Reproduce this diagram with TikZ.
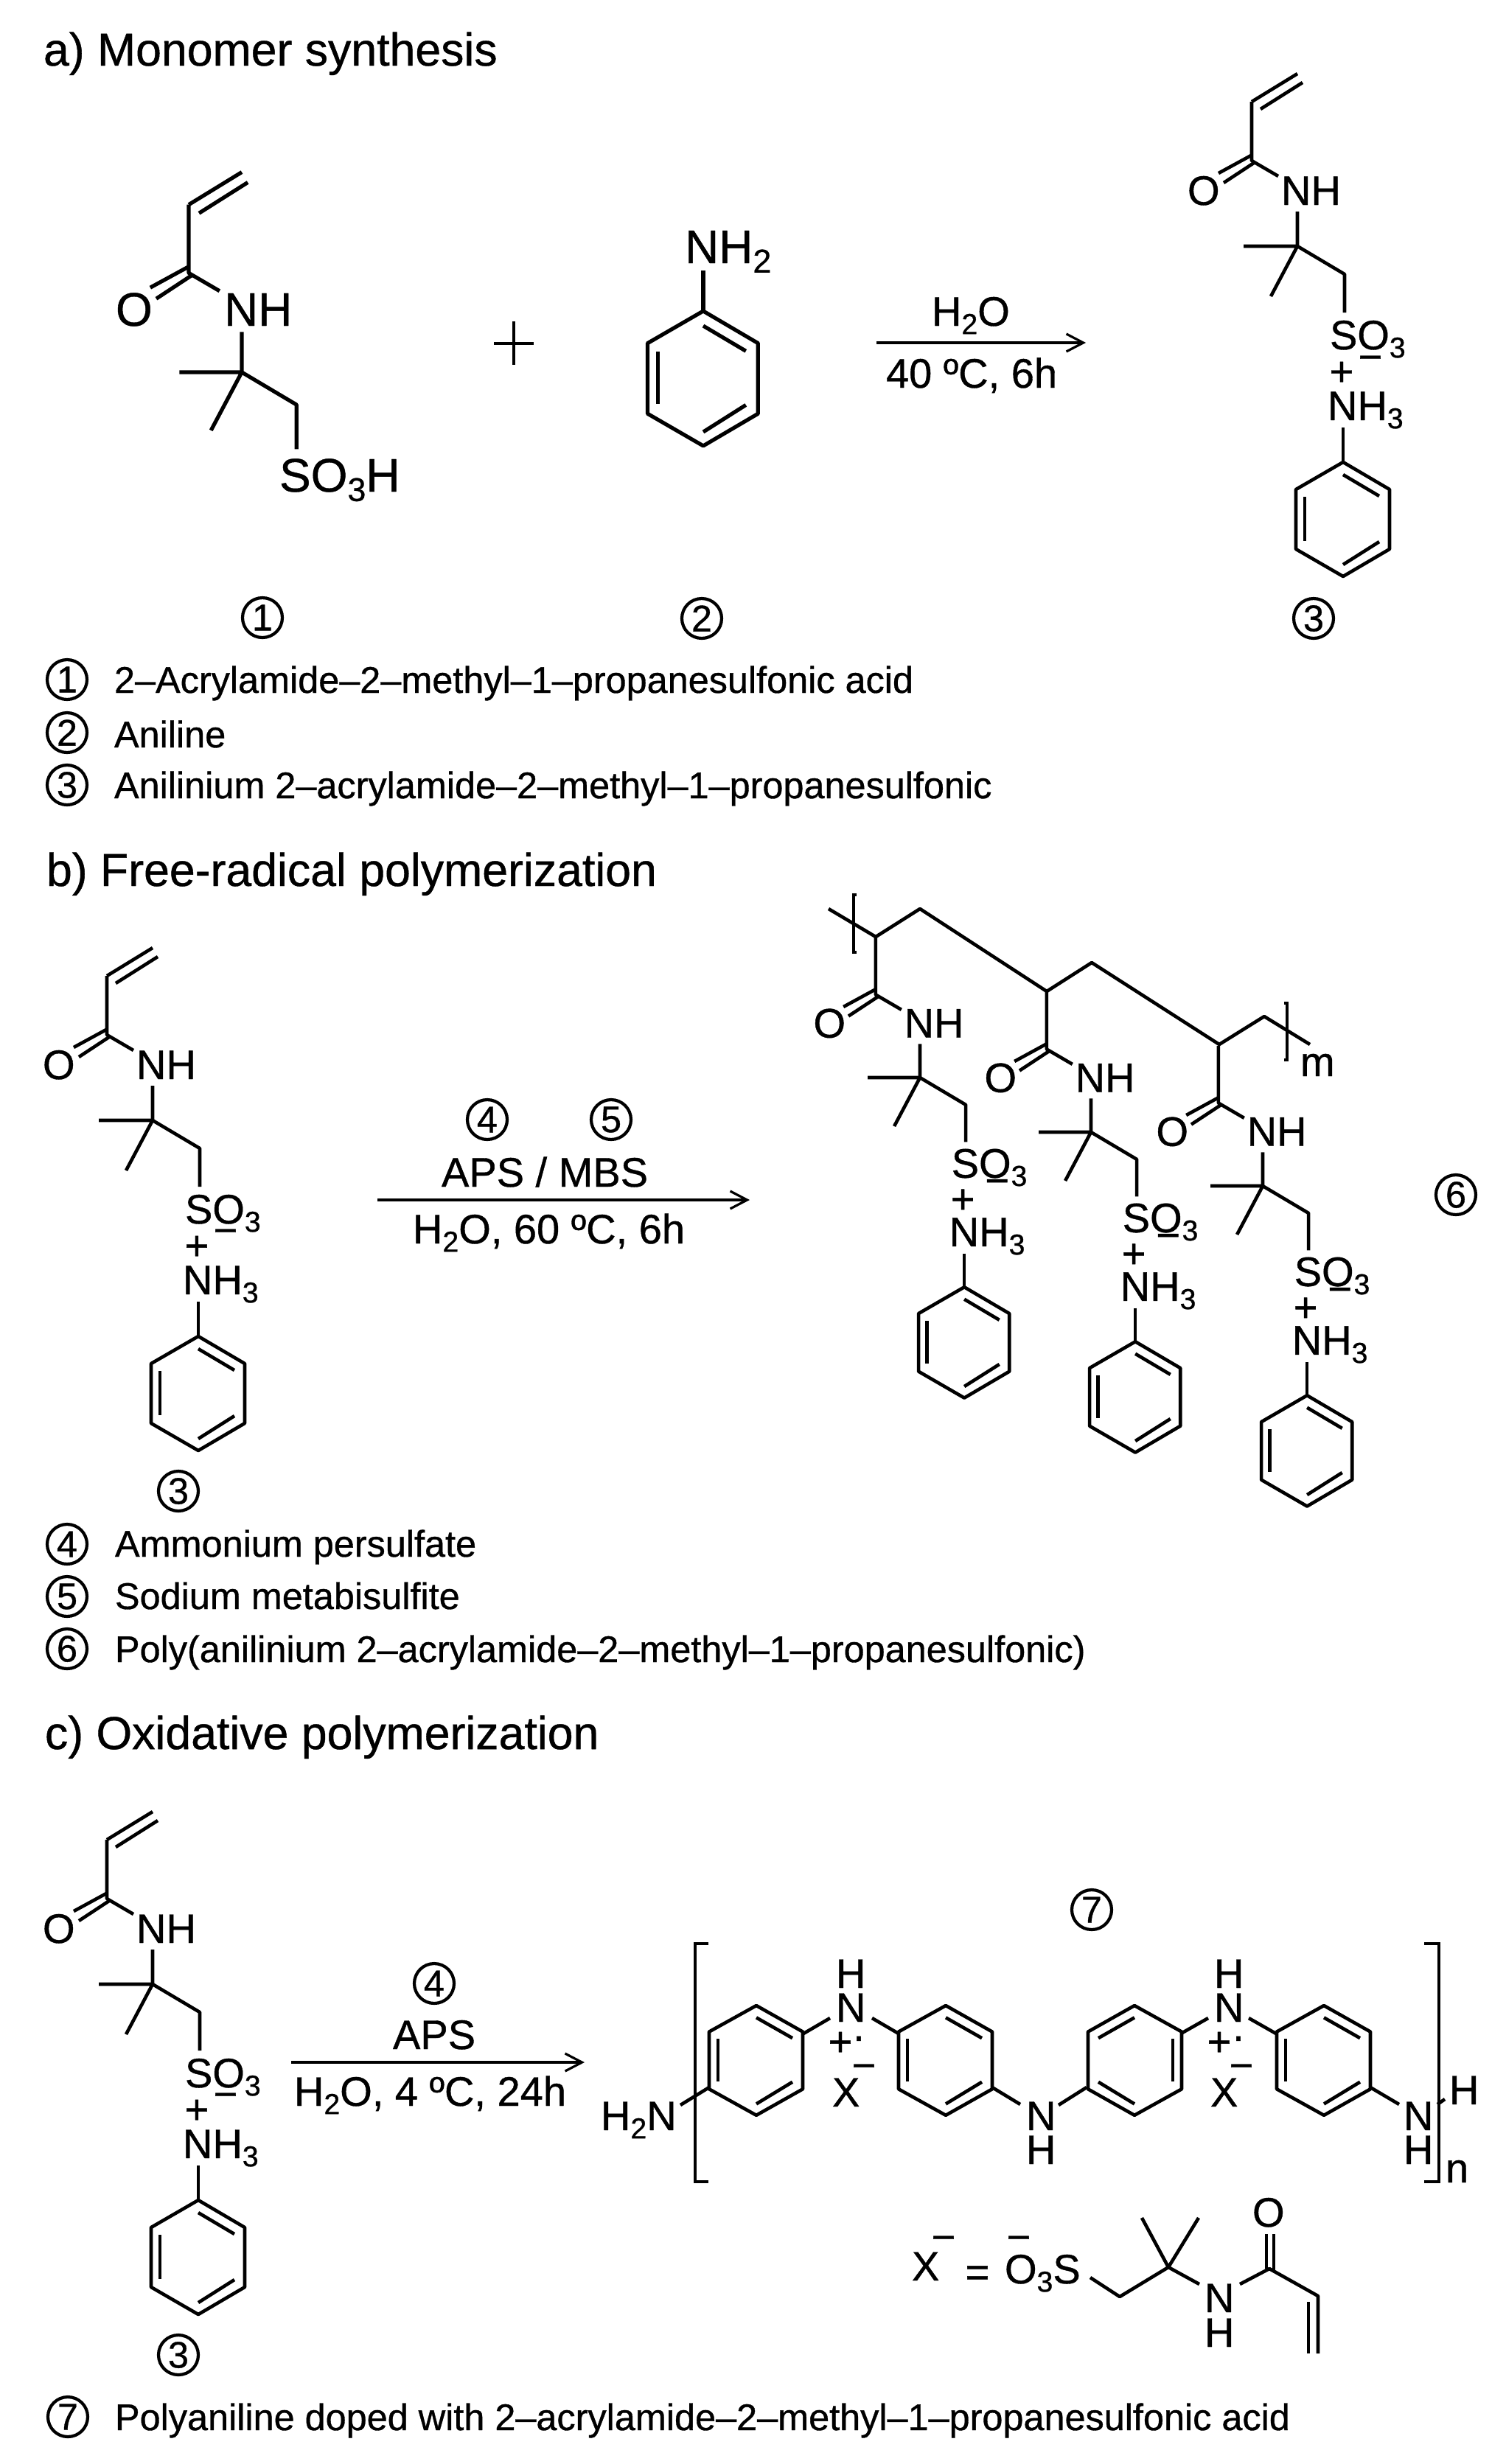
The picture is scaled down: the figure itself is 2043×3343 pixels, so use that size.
\documentclass[tikz,border=0pt]{standalone}
\usepackage{fontspec}
\setmainfont[FakeBold=0.7]{Liberation Sans}
\usetikzlibrary{arrows.meta}
\newcommand\chemsize{\fontsize{28pt}{28pt}\selectfont}
\newcommand\bigchem{\fontsize{32pt}{32pt}\selectfont}
\newcommand\headsize{\fontsize{31.3pt}{32pt}\selectfont}
\newcommand\listsize{\fontsize{25.2pt}{25pt}\selectfont}
\newcommand\sbs[1]{\raisebox{-0.2em}{\fontsize{0.7em}{0.7em}\selectfont #1}}
\tikzset{
  x=0.5pt,y=-0.5pt,
  bond/.style={draw=black,line width=2.3pt,line cap=butt,line join=round},
  bigbond/.style={draw=black,line width=2.6pt,line cap=butt,line join=round},
  thinline/.style={draw=black,line width=1.6pt},
  brack/.style={draw=black,line width=1.7pt,line join=miter},
  chem/.style={anchor=base west,inner sep=0pt,outer sep=0pt,font=\chemsize},
  bchem/.style={anchor=base west,inner sep=0pt,outer sep=0pt,font=\bigchem},
  mid/.style={anchor=center,inner sep=0pt,outer sep=0pt,font=\chemsize},
  head/.style={anchor=base west,inner sep=0pt,outer sep=0pt,font=\headsize},
  listtxt/.style={anchor=base west,inner sep=0pt,outer sep=0pt,font=\listsize},
  cnum/.style={draw=black,circle,line width=2.1pt,minimum size=27pt,inner sep=0pt,outer sep=0pt,font=\listsize},
  rxn/.style={thinline,-{Straight Barb[length=11.5pt,width=12pt,line width=1.6pt]}},
}
% bonds of the acrylamide part; origin at the quaternary carbon
\newcommand\vinylpart[1]{%
  \draw[#1] (0,-234)--(-62,-196);
  \draw[#1] (7,-222)--(-50,-186);}
\newcommand\amidepart[1]{%
  \draw[#1] (-62,-196)--(-62,-116)--(-26,-95);
  \draw[#1] (-63,-123)--(-107,-99);
  \draw[#1] (-59,-113)--(-100,-86);
  \draw[#1] (0,-47)--(0,0)--(64,38)--(64,90);
  \draw[#1] (-73,0)--(0,0)--(-36,68);}
% benzene ring; origin at the top vertex
\newcommand\hexring[1]{%
  \draw[#1] (0,0)--(63,37)--(63,118)--(0,155)--(-64,118)--(-64,37)--cycle;
  \draw[#1] (0,17)--(49,46);
  \draw[#1] (-52,47)--(-52,107);
  \draw[#1] (49,108)--(0,139);}
% labels and ring of the anilinium part
\newcommand\salt[2]{%
  \node[chem] at (-149,-56) {O};
  \node[chem] at (-22,-56) {NH};
  \node[chem] at (44,140) {SO\sbs{3}};
  \node[chem] at (41,236) {NH\sbs{3}};
  \node[mid] at (60,173) {+};
  \node[mid] at (#1,#2) {−};
  \draw[bond] (62,246)--(62,293);
  \begin{scope}[shift={(62,293)}]\hexring{bond}\end{scope}}
\begin{document}
\begin{tikzpicture}
\useasboundingbox (0,0) rectangle (2043,3343);
% ---------- a
\node[head] (heada) at (59,89) {a) Monomer synthesis};
\begin{scope}[shift={(328,505)},scale=1.16]
  \vinylpart{bigbond}\amidepart{bigbond}
\end{scope}
\node[bchem] (o1) at (157,442) {O};
\node[bchem] (nh1) at (304,442) {NH};
\node[bchem] (so3h) at (379,667) {SO\sbs{3}H};
\node[bchem] (nh2) at (929,357) {NH\sbs{2}};
\draw[bigbond] (954,367)--(954,422);
\begin{scope}[shift={(954,422)},scale=1.18]\hexring{bigbond}\end{scope}
\draw[thinline] (670,466)--(724,466);
\draw[thinline] (697,436)--(697,495);
\coordinate (a1) at (1189,465);\coordinate (a2) at (1473,465);
\draw[rxn] (a1)--(a2);
\node[chem] (h2oa) at (1264,442) {H\sbs{2}O};
\node[chem] (conda) at (1202,526) {40 ºC, 6h};
\begin{scope}[shift={(1760,334)}]
  \vinylpart{bond}\amidepart{bond}\salt{99}{159}
\end{scope}
\node[cnum] (n1) at (356,838) {1};
\node[cnum] (n2) at (952,839) {2};
\node[cnum] (n3a) at (1782,839) {3};
\node[cnum] (l1) at (91,922) {1};
\node[cnum] (l2) at (91,994) {2};
\node[cnum] (l3) at (91,1065) {3};
\node[listtxt] at (155,940) {2–Acrylamide–2–methyl–1–propanesulfonic acid};
\node[listtxt] at (155,1014) {Aniline};
\node[listtxt] at (155,1083) {Anilinium 2–acrylamide–2–methyl–1–propanesulfonic};
% ---------- b
\node[head] (headb) at (63,1202) {b) Free-radical polymerization};
\begin{scope}[shift={(207,1520)}]
  \vinylpart{bond}\amidepart{bond}\salt{99}{158}
\end{scope}
\node[cnum] (n3b) at (242,2023) {3};
\node[cnum] (n4b) at (661,1519) {4};
\node[cnum] (n5b) at (829,1519) {5};
\node[chem] (apsmbs) at (599,1610) {APS / MBS};
\node[chem] (condb) at (560,1687) {H\sbs{2}O, 60 ºC, 6h};
\coordinate (b1) at (512,1628);\coordinate (b2) at (1017,1628);
\draw[rxn] (b1)--(b2);
% polymer
\draw[bond] (1124,1233)--(1188,1271)--(1248,1233)--(1420,1345)--(1481,1306)--(1654,1417)--(1715,1379)--(1777,1417);
\draw[brack] (1162,1214)--(1158,1214)--(1158,1292)--(1162,1292);
\draw[brack] (1742,1361)--(1746,1361)--(1746,1438)--(1742,1438);
\node[chem] (m) at (1764,1460) {m};
\begin{scope}[shift={(1248,1462)},scale=.97]\amidepart{bond}\salt{108}{153}\end{scope}
\begin{scope}[shift={(1480,1536)},scale=.97]\amidepart{bond}\salt{108}{153}\end{scope}
\begin{scope}[shift={(1713,1609)},scale=.97]\amidepart{bond}\salt{108}{153}\end{scope}
\node[cnum] (n6) at (1975,1621) {6};
\node[cnum] (l4) at (91,2095) {4};
\node[cnum] (l5) at (91,2166) {5};
\node[cnum] (l6) at (91,2237) {6};
\node[listtxt] at (156,2112) {Ammonium persulfate};
\node[listtxt] at (156,2183) {Sodium metabisulfite};
\node[listtxt] at (156,2255) {Poly(anilinium 2–acrylamide–2–methyl–1–propanesulfonic)};
% ---------- c
\node[head] (headc) at (61,2373) {c) Oxidative polymerization};
\begin{scope}[shift={(207,2692)}]
  \vinylpart{bond}\amidepart{bond}\salt{99}{158}
\end{scope}
\node[cnum] (n3c) at (242,3195) {3};
\node[cnum] (n4c) at (589,2691) {4};
\node[chem] (aps) at (533,2780) {APS};
\node[chem] (condc) at (399,2857) {H\sbs{2}O, 4 ºC, 24h};
\coordinate (c1) at (395,2798);\coordinate (c2) at (793,2798);
\draw[rxn] (c1)--(c2);
\node[cnum] (n7) at (1481,2591) {7};
% polyaniline
\draw[brack] (961,2637)--(943,2637)--(943,2960)--(961,2960);
\draw[brack] (1932,2637)--(1952,2637)--(1952,2960)--(1932,2960);
\foreach \cx/\sx in {1026/1,1283/1,1539/-1,1796/1}{
  \begin{scope}[shift={(\cx,2721)},xscale=\sx,yscale=.96]\hexring{bond}\end{scope}}
\node[chem] (h2n) at (815,2890) {H\sbs{2}N};
\draw[bond] (923,2856)--(962,2832);
\draw[bond] (1090,2759)--(1126,2738);
\draw[bond] (1183,2738)--(1219,2759);
\node[chem] (n1t) at (1134,2743) {N};
\node[chem] (h1t) at (1134,2697) {H};
\node[mid] (p1) at (1140,2773) {+};
\node[mid] (d1) at (1165,2772) {·};
\node[chem] (x1) at (1129,2858) {X};
\node[mid] (x1m) at (1172,2811) {−};
\draw[bond] (1346,2832)--(1384,2855);
\draw[bond] (1436,2856)--(1474,2832);
\node[chem] (n2b) at (1392,2890) {N};
\node[chem] (h2b) at (1392,2936) {H};
\draw[bond] (1602,2759)--(1639,2738);
\draw[bond] (1694,2738)--(1731,2759);
\node[chem] (n3t) at (1647,2743) {N};
\node[chem] (h3t) at (1647,2697) {H};
\node[mid] (p3) at (1654,2773) {+};
\node[mid] (d3) at (1680,2772) {·};
\node[chem] (x3) at (1642,2858) {X};
\node[mid] (x3m) at (1684,2811) {−};
\draw[bond] (1859,2832)--(1898,2855);
\node[chem] (n4b2) at (1904,2890) {N};
\node[chem] (h4b) at (1904,2936) {H};
\node[chem] (hr) at (1966,2855) {H};
\draw[bond] (1950,2855)--(1960,2848);
\node[chem] (nn) at (1961,2961) {n};
% counter ion
\node[chem] (xe) at (1237,3094) {X};
\node[mid] (xem) at (1280,3044) {−};
\node[mid] (eq) at (1326,3088) {=};
\node[chem] (o3s) at (1363,3098) {O\sbs{3}S};
\node[mid] (o3m) at (1382,3044) {−};
\draw[bond] (1479,3090)--(1519,3116)--(1585,3076)--(1627,3099);
\draw[bond] (1549,3009)--(1585,3076)--(1626,3009);
\node[chem] (nx) at (1634,3137) {N};
\node[chem] (hx) at (1634,3184) {H};
\draw[bond] (1682,3099)--(1722,3078)--(1788,3115)--(1788,3193);
\draw[bond] (1775,3123)--(1775,3193);
\draw[bond] (1718,3078)--(1718,3031);
\draw[bond] (1728,3081)--(1728,3031);
\node[chem] (ox) at (1699,3021) {O};
\node[cnum] (l7) at (92,3279) {7};
\node[listtxt] at (156,3297) {Polyaniline doped with 2–acrylamide–2–methyl–1–propanesulfonic acid};
\end{tikzpicture}
\end{document}
